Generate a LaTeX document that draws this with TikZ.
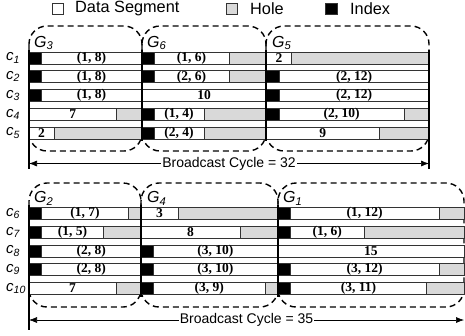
\documentclass[tikz,border=0pt]{standalone}
\usepackage{fontspec}
\setmainfont{Liberation Sans}
\newfontfamily\tms{Liberation Serif}
\usetikzlibrary{arrows.meta}
\tikzset{
  seg/.style={draw=black!80,line width=.8pt},
  dat/.style={seg,fill=white},
  hol/.style={seg,fill=black!15},
  idx/.style={seg,fill=black},
  lbl/.style={font=\tms\bfseries\fontsize{13.5}{14}\selectfont,inner sep=0pt},
  grp/.style={line width=1.4pt,dash pattern=on 6pt off 4pt,rounded corners=18pt},
  bnd/.style={line width=1.3pt},
  cyc/.style={{Latex[length=8pt,width=6pt]}-{Latex[length=8pt,width=6pt]},line width=.6pt},
  cyclbl/.style={fill=white,inner sep=1pt,font=\fontsize{14}{16}\selectfont},
  chan/.style={anchor=west,font=\fontsize{15}{18}\selectfont\itshape,inner sep=0pt},
  gname/.style={anchor=west,font=\fontsize{16}{19}\selectfont\itshape,inner sep=0pt},
  key/.style={anchor=west,font=\fontsize{16.3}{19}\selectfont,inner sep=0pt}
}
\begin{document}
\begin{tikzpicture}[x=1pt,y=-1pt]
\useasboundingbox (0,0) rectangle (465,335);
% legend
\draw[dat] (52,3) rectangle (63,14);
\node[key] (kdat) at (75,8.5) {Data Segment};
\draw[hol] (226,3) rectangle (237,14);
\node[key] (khol) at (250,8.5) {Hole};
\draw[idx] (325,3) rectangle (337,14);
\node[key] (kidx) at (350,8.5) {Index};

% upper schedule, cycle 32
\draw[grp] (29,26) rectangle (142,151);
\draw[grp] (142,26) rectangle (266,151);
\draw[grp] (266,26) rectangle (429,151);
\node[gname] (g3) at (34,43) {G\textsubscript{3}};
\node[gname] (g6) at (147,43) {G\textsubscript{6}};
\node[gname] (g5) at (272,43) {G\textsubscript{5}};
\node[chan] (c1) at (6,58) {c\textsubscript{1}};
\node[chan] (c2) at (6,76.75) {c\textsubscript{2}};
\node[chan] (c3) at (6,95.5) {c\textsubscript{3}};
\node[chan] (c4) at (6,114.25) {c\textsubscript{4}};
\node[chan] (c5) at (6,133) {c\textsubscript{5}};
\begin{scope}[xshift=29pt,x=12.5pt]
\foreach \a/\b/\s/\t in {0/1/idx/{},1/9/dat/{(1, 8)},9/10/idx/{},10/16/dat/{(1, 6)},16/19/hol/{},19/21/dat/{2},21/32/hol/{}}{
  \draw[\s] (\a,52) rectangle (\b,64);
  \node[lbl] (r1s\a) at ({(\a+\b)/2},58) {\t};
}
\foreach \a/\b/\s/\t in {0/1/idx/{},1/9/dat/{(1, 8)},9/10/idx/{},10/16/dat/{(2, 6)},16/19/hol/{},19/20/idx/{},20/32/dat/{(2, 12)}}{
  \draw[\s] (\a,70.75) rectangle (\b,82.75);
  \node[lbl] (r2s\a) at ({(\a+\b)/2},76.75) {\t};
}
\foreach \a/\b/\s/\t in {0/1/idx/{},1/9/dat/{(1, 8)},9/19/dat/{10},19/20/idx/{},20/32/dat/{(2, 12)}}{
  \draw[\s] (\a,89.5) rectangle (\b,101.5);
  \node[lbl] (r3s\a) at ({(\a+\b)/2},95.5) {\t};
}
\foreach \a/\b/\s/\t in {0/7/dat/{7},7/9/hol/{},9/10/idx/{},10/14/dat/{(1, 4)},14/19/hol/{},19/20/idx/{},20/30/dat/{(2, 10)},30/32/hol/{}}{
  \draw[\s] (\a,108.25) rectangle (\b,120.25);
  \node[lbl] (r4s\a) at ({(\a+\b)/2},114.25) {\t};
}
\foreach \a/\b/\s/\t in {0/2/dat/{2},2/9/hol/{},9/10/idx/{},10/14/dat/{(2, 4)},14/19/hol/{},19/28/dat/{9},28/32/hol/{}}{
  \draw[\s] (\a,127) rectangle (\b,139);
  \node[lbl] (r5s\a) at ({(\a+\b)/2},133) {\t};
}
\end{scope}
\draw[bnd] (29,50) -- (29,169);
\draw[bnd] (142,50) -- (142,141);
\draw[bnd] (266,50) -- (266,141);
\draw[bnd] (429,50) -- (429,169);
\coordinate (ua) at (29,163.5);
\coordinate (ub) at (429,163.5);
\draw[cyc] (ua) -- node[cyclbl] (cyc32) {Broadcast Cycle = 32} (ub);

% lower schedule, cycle 35
\draw[grp] (29,183) rectangle (141,307);
\draw[grp] (141,183) rectangle (278,307);
\draw[grp] (278,183) rectangle (464,307);
\node[gname] (g2) at (34,198.5) {G\textsubscript{2}};
\node[gname] (g4) at (147,198.5) {G\textsubscript{4}};
\node[gname] (g1) at (283,198.5) {G\textsubscript{1}};
\node[chan] (c6) at (6,213.5) {c\textsubscript{6}};
\node[chan] (c7) at (6,232.2) {c\textsubscript{7}};
\node[chan] (c8) at (6,250.9) {c\textsubscript{8}};
\node[chan] (c9) at (6,269.6) {c\textsubscript{9}};
\node[chan] (c10) at (6,288.3) {c\textsubscript{10}};
\begin{scope}[xshift=29pt,x=12.43pt]
\foreach \a/\b/\s/\t in {0/1/idx/{},1/8/dat/{(1, 7)},8/9/hol/{},9/12/dat/{3},12/20/hol/{},20/21/idx/{},21/33/dat/{(1, 12)},33/35/hol/{}}{
  \draw[\s] (\a,207.5) rectangle (\b,219.5);
  \node[lbl] (r6s\a) at ({(\a+\b)/2},213.5) {\t};
}
\foreach \a/\b/\s/\t in {0/1/idx/{},1/6/dat/{(1, 5)},6/9/hol/{},9/17/dat/{8},17/20/hol/{},20/21/idx/{},21/27/dat/{(1, 6)},27/35/hol/{}}{
  \draw[\s] (\a,226.2) rectangle (\b,238.2);
  \node[lbl] (r7s\a) at ({(\a+\b)/2},232.2) {\t};
}
\foreach \a/\b/\s/\t in {0/1/idx/{},1/9/dat/{(2, 8)},9/10/idx/{},10/20/dat/{(3, 10)},20/35/dat/{15}}{
  \draw[\s] (\a,244.9) rectangle (\b,256.9);
  \node[lbl] (r8s\a) at ({(\a+\b)/2},250.9) {\t};
}
\foreach \a/\b/\s/\t in {0/1/idx/{},1/9/dat/{(2, 8)},9/10/idx/{},10/20/dat/{(3, 10)},20/21/idx/{},21/33/dat/{(3, 12)},33/35/hol/{}}{
  \draw[\s] (\a,263.6) rectangle (\b,275.6);
  \node[lbl] (r9s\a) at ({(\a+\b)/2},269.6) {\t};
}
\foreach \a/\b/\s/\t in {0/7/dat/{7},7/9/hol/{},9/10/idx/{},10/19/dat/{(3, 9)},19/20/hol/{},20/21/idx/{},21/32/dat/{(3, 11)},32/35/hol/{}}{
  \draw[\s] (\a,282.3) rectangle (\b,294.3);
  \node[lbl] (r10s\a) at ({(\a+\b)/2},288.3) {\t};
}
\end{scope}
\draw[bnd] (29,205) -- (29,330);
\draw[bnd] (141,205) -- (141,297);
\draw[bnd] (278,205) -- (278,297);
\coordinate (la) at (29,320);
\coordinate (lb) at (464,320);
\draw[cyc] (la) -- node[cyclbl] (cyc35) {Broadcast Cycle = 35} (lb);
\end{tikzpicture}
\end{document}
